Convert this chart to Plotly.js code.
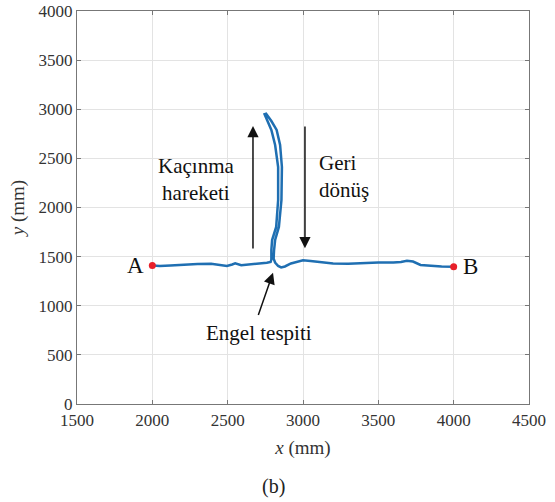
<!DOCTYPE html>
<html>
<head>
<meta charset="utf-8">
<script src="https://cdn.plot.ly/plotly-3.0.1.min.js"></script>
<style>html,body{margin:0;padding:0;background:#fff;}#chart{width:555px;height:502px;}</style>
</head>
<body>
<div id="chart"></div>
<script>
// Robot path (mm)
const pathX = [2000,2050,2120,2200,2300,2390,2440,2495,2530,2550,2590,2640,2700,2760,2785,
  2790,2790,2795,2822,2835,2835,2815,2790,2760,2745,
  2755,2790,2825,2848,2860,2857,2840,2815,2808,2805,2815,2835,2855,2880,2920,2960,3000,3050,3120,3200,3300,3400,3500,3600,3650,3690,3730,3780,3850,3920,4000];
const pathY = [1410,1405,1410,1418,1425,1428,1420,1405,1420,1432,1412,1418,1425,1437,1445,
  1470,1567,1669,1802,2076,2412,2636,2789,2900,2950,
  2955,2880,2789,2636,2412,2076,1802,1669,1567,1480,1440,1405,1390,1400,1430,1450,1462,1455,1440,1430,1428,1435,1440,1440,1445,1458,1450,1415,1405,1400,1398];
// Start / end points
const pointX = [2000, 4000];
const pointY = [1410, 1398];
const pointLabels = ["A", "B"];
const xTicks = [1500,2000,2500,3000,3500,4000,4500];
const yTicks = [0,500,1000,1500,2000,2500,3000,3500,4000];

const serif = "Liberation Serif";
const traces = [
  {x: pathX, y: pathY, mode: "lines", line: {color: "#1f6fb2", width: 2.5}, hoverinfo: "skip"},
  {x: pointX, y: pointY, mode: "markers", marker: {color: "#e8202a", size: 7}, hoverinfo: "skip"}
];

const annotations = [
  {x: pointX[0], y: pointY[0], text: pointLabels[0], showarrow: false, xanchor: "right", xshift: -6, font: {family: serif, size: 23, color: "#111"}},
  {x: pointX[1], y: pointY[1], text: pointLabels[1], showarrow: false, xanchor: "left", xshift: 7, font: {family: serif, size: 23, color: "#111"}},
  // arrows
  {x: 2668, y: 2830, ax: 2668, ay: 1567, axref: "x", ayref: "y", xref: "x", yref: "y", text: "", showarrow: true, arrowhead: 2, arrowsize: 1.5, arrowwidth: 1.5, arrowcolor: "#111"},
  {x: 3013, y: 1585, ax: 3013, ay: 2840, axref: "x", ayref: "y", xref: "x", yref: "y", text: "", showarrow: true, arrowhead: 2, arrowsize: 1.5, arrowwidth: 1.5, arrowcolor: "#111"},
  {x: 2801, y: 1335, ax: 2700, ay: 890, axref: "x", ayref: "y", xref: "x", yref: "y", text: "", showarrow: true, arrowhead: 2, arrowsize: 1.5, arrowwidth: 1.5, arrowcolor: "#111"},
  {x: 2292, y: 2290, text: "Kaçınma<br>hareketi", showarrow: false, align: "center", font: {family: serif, size: 21, color: "#111"}},
  {x: 3095, y: 2320, text: "Geri<br>dönüş", showarrow: false, xanchor: "left", align: "left", font: {family: serif, size: 21, color: "#111"}},
  {x: 2708, y: 723, text: "Engel tespiti", showarrow: false, font: {family: serif, size: 21, color: "#111"}},
  {x: 0.434, y: -0.211, xref: "paper", yref: "paper", xanchor: "center", yanchor: "middle", text: "(b)", showarrow: false, font: {family: serif, size: 20, color: "#222"}}
];

const layout = {
  width: 555, height: 502,
  margin: {l: 77, r: 26, t: 11, b: 98},
  paper_bgcolor: "#fff", plot_bgcolor: "#fff",
  showlegend: false,
  font: {family: serif, size: 17, color: "#333"},
  xaxis: {
    range: [1500, 4500], tickvals: xTicks, ticktext: xTicks.map(String),
    showgrid: true, gridcolor: "#e3e3e3", gridwidth: 1, zeroline: false,
    showline: true, linecolor: "#777", linewidth: 1.2, mirror: "ticks",
    ticks: "inside", ticklen: 4, tickcolor: "#777",
    tickfont: {family: serif, size: 17, color: "#333"},
    title: {text: "<i>x</i> (mm)", font: {family: serif, size: 19, color: "#333"}, standoff: 12}
  },
  yaxis: {
    range: [0, 4000], tickvals: yTicks, ticktext: yTicks.map(String),
    showgrid: true, gridcolor: "#e3e3e3", gridwidth: 1, zeroline: false,
    showline: true, linecolor: "#777", linewidth: 1.2, mirror: "ticks",
    ticks: "inside", ticklen: 4, tickcolor: "#777",
    tickfont: {family: serif, size: 17, color: "#333"},
    title: {text: "<i>y</i> (mm)", font: {family: serif, size: 19, color: "#333"}, standoff: 8}
  },
  annotations: annotations
};

Plotly.newPlot("chart", traces, layout, {displayModeBar: false});
</script>
</body>
</html>
